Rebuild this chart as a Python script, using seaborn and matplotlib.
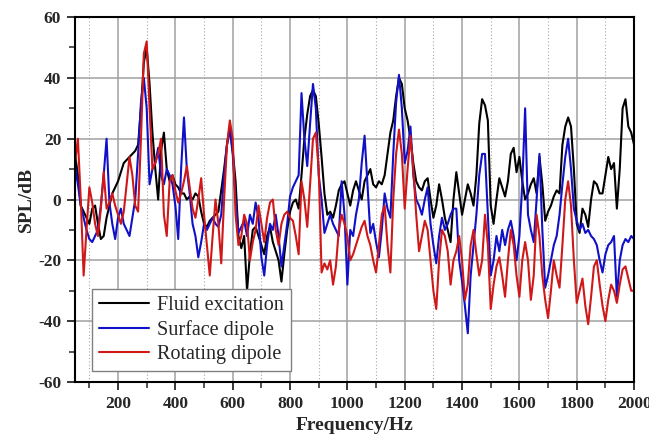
import numpy as np
import pandas as pd
import matplotlib
matplotlib.use("Agg")
import matplotlib.pyplot as plt
import seaborn as sns
from matplotlib.ticker import MultipleLocator

# frequency grid (Hz)
freq = np.arange(50, 2001, 10)

# SPL values (dB), one per 10 Hz from 50 to 2000
fluid = [
    15, 8, -2, -4, -6, -8, -3, -2, -8, -13,
    -12, -6, -2, 2, 4, 6, 9, 12, 13, 14,
    15, 16, 18, 30, 45, 50, 38, 22, 10, 0,
    16, 22, 10, 6, 8, 5, 4, 2, 2, 0,
    1, 0, 2, 1, -4, -8, -9, -7, -6, -5,
    -4, 3, 10, 18, 24, 16, 6, -12, -16, -12,
    -30, -18, -10, -9, -12, -15, -18, -12, -9, -14,
    -17, -20, -27, -18, -10, -4, -1, 0, -3, 8,
    20, 28, 34, 36, 34, 25, 14, 2, -5, -4,
    -6, -2, 3, 5, 6, 2, -2, 3, 6, 3,
    0, 6, 8, 10, 5, 4, 6, 5, 8, 15,
    22, 26, 34, 40, 38, 30, 26, 20, 12, 6,
    4, 3, 6, 7, 0, -6, -2, 5, 0, -6,
    -10, -14, 0, 9, 2, -5, 0, 5, 2, -2,
    8, 25, 33, 31, 26, -2, -8, 0, 7, 4,
    1, 6, 15, 17, 9, 14, 6, 0, 2, 5,
    7, 2, 14, 5, -7, -4, -2, 1, 3, 2,
    18, 24, 27, 24, 10, -8, -11, -3, -5, -9,
    0, 6, 5, 2, 2, 8, 14, 10, 12, -3,
    10, 30, 33, 24, 22, 18,
]
surface = [
    11, 5, -2, -6, -10, -13, -14, -12, -10, -2,
    8, 20, -1, -8, -13, -6, -3, -8, -10, -12,
    -6, 0, 15, 32, 40, 30, 5, 10, 12, 17,
    8, 5, 10, 8, 5, -2, -13, 10, 27, 10,
    2, -8, -12, -19, -14, -8, -10, -8, -6, -8,
    -9, -5, 8, 18, 23, 15, 0, -11, -9, -7,
    -12, -5, -8, -1, -6, -19, -25, -15, -8, -10,
    -5, -12, -22, -15, -8, 1, 4, 6, 8, 35,
    20, 11, 25, 38, 30, 8, 0, -11, -8, -5,
    -8, -10, -12, 6, -5, -28, -10, -12, -5, 0,
    12, 21, 5, -11, -8, -14, -19, -10, 2, -3,
    -6, 15, 32, 41, 30, 12, 16, 24, 8, 0,
    -2, -5, 0, 4, -8, -15, -21, -12, -6, -10,
    -8, -5, -3, -3, -20, -27, -35, -44, -25, -15,
    -5, 8, 15, 15, -5, -25, -20, -12, -17, -10,
    -15, -10, -7, -12, -20, -12, 5, 30, -5, -10,
    -14, 0, 15, -10, -29, -25, -20, -15, -12, -5,
    5, 14, 20, 10, -3, -7, -10, -8, -11, -10,
    -12, -13, -15, -20, -24, -18, -15, -14, -12, -32,
    -20, -15, -13, -14, -12, -13,
]
rotating = [
    12, 20, 0, -25, -10, 4, -1, -8, -12, -3,
    9, -3, -1, 2, -2, -5, -8, -4, 5, 14,
    8, -2, -4, 20, 48, 52, 30, 10, 12, 15,
    20, -5, -12, 6, 8, 3, -1, 2, 6, 11,
    4, -3, -6, 0, 7, -5, -15, -25, -12, 0,
    -8, -21, 0, 18, 26, 20, -5, -15, -12, -5,
    -8, -20, -14, -10, -2, -8, -14, -6, -1, 0,
    -10, -15, -8, -5, -4, -6, -7, -12, -18, 6,
    0, -9, 5, 20, 22, 10, -24, -21, -23, -20,
    -28, -22, -10, -5, -8, -12, -20, -18, -15, -12,
    -9, -7, -12, -15, -20, -24, -15, -5, -2, -15,
    -24, 0, 15, 23, 15, -3, 10, 21, 10, -5,
    -17, -12, -7, -10, -20, -30, -36, -20, -10, -12,
    -17, -28, -20, -17, -12, -20, -33, -28, -15, -10,
    -18, -25, -20, -5, -15, -36, -28, -22, -19, -25,
    -32, -20, -10, -15, -25, -32, -20, -14, -20, -33,
    -25, -5, -12, -25, -33, -39, -30, -20, -25, -29,
    -15, 0, 6, -2, -20, -34, -30, -26, -35, -41,
    -32, -22, -20, -28, -35, -40, -33, -28, -30, -34,
    -28, -23, -22, -26, -30, -30,
]

labels = ["Fluid excitation", "Surface dipole", "Rotating dipole"]
colors = ["#000000", "#1010c8", "#d01818"]

df = pd.DataFrame({"freq": freq, labels[0]: fluid, labels[1]: surface, labels[2]: rotating})

sns.set_style("white")
plt.rcParams["font.family"] = ["Liberation Serif", "DejaVu Serif"]
plt.rcParams["axes.unicode_minus"] = False

fig = plt.figure(figsize=(6.49, 4.38), dpi=100)
ax = fig.add_axes([0.1156, 0.128, 0.8614, 0.833])

for lab, col in zip(labels, colors):
    sns.lineplot(data=df, x="freq", y=lab, color=col, lw=1.5, label=lab, ax=ax)

ax.set_xlim(50, 2000)
ax.set_ylim(-60, 60)
ax.xaxis.set_major_locator(MultipleLocator(200))
ax.xaxis.set_minor_locator(MultipleLocator(100))
ax.yaxis.set_major_locator(MultipleLocator(20))
ax.yaxis.set_minor_locator(MultipleLocator(10))

ax.grid(which="major", color="#a0a0a0", lw=1.1, ls="-")
ax.grid(which="minor", axis="x", color="#a8a8a8", lw=0.8, ls=(0, (1, 2)))
ax.set_axisbelow(True)

ax.tick_params(which="major", direction="out", length=6, width=1.3, bottom=True, left=True,
               labelsize=12.5, pad=4)
ax.tick_params(which="minor", direction="out", length=4, width=1.1, bottom=True, left=True)
for t in ax.get_xticklabels() + ax.get_yticklabels():
    t.set_fontweight("bold")

for s in ax.spines.values():
    s.set_color("black")
    s.set_linewidth(1.5)

ax.set_xlabel("Frequency/Hz", fontsize=14, fontweight="bold", labelpad=4)
ax.set_ylabel("SPL/dB", fontsize=14, fontweight="bold", labelpad=2)

leg = ax.legend(loc="lower left", bbox_to_anchor=(0.03, 0.03), borderaxespad=0,
                fontsize=14.5, fancybox=False, framealpha=1, edgecolor="#808080",
                handlelength=2.5, labelspacing=0.25, borderpad=0.35, handletextpad=0.4)
leg.get_frame().set_linewidth(1.0)

fig.savefig("out.png", dpi=100)
